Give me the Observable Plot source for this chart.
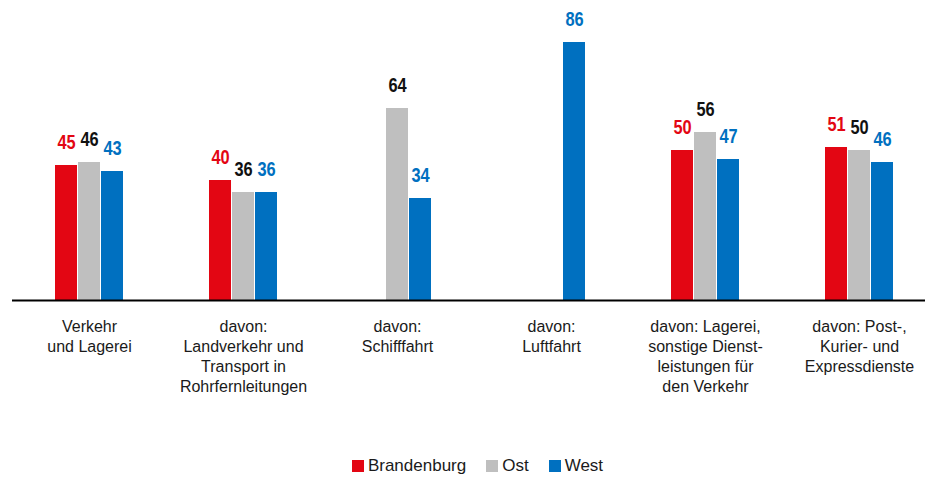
<!DOCTYPE html>
<html>
<head>
<meta charset="utf-8">
<script src="https://cdn.jsdelivr.net/npm/d3@7"></script>
<script src="https://cdn.jsdelivr.net/npm/@observablehq/plot@0.6"></script>
<style>
  html, body { margin: 0; padding: 0; background: #fff; }
  body { width: 925px; height: 478px; overflow: hidden; font-family: "Liberation Sans", Arial, sans-serif; }
  #legend { display: flex; justify-content: center; align-items: center; gap: 20px; font-size: 17px; color: #1a1a1a; height: 38px; margin-top: 7px; margin-left: 30px; }
  #legend .item { display: flex; align-items: center; gap: 4px; }
  #legend .sw { width: 12px; height: 12px; display: inline-block; }
</style>
</head>
<body>
<div id="chart"></div>
<div id="legend"></div>
<script>
const categories = [
  "Verkehr\nund Lagerei",
  "davon:\nLandverkehr und\nTransport in\nRohrfernleitungen",
  "davon:\nSchifffahrt",
  "davon:\nLuftfahrt",
  "davon: Lagerei,\nsonstige Dienst-\nleistungen für\nden Verkehr",
  "davon: Post-,\nKurier- und\nExpressdienste"
];
const series = ["Brandenburg", "Ost", "West"];
const brandenburg = [45, 40, null, null, 50, 51];
const ost = [46, 36, 64, null, 56, 50];
const west = [43, 36, 34, 86, 47, 46];
const barColors = ["#e30613", "#bfbfbf", "#0070c0"];
const labelColors = ["#e30613", "#111111", "#0070c0"];

const seriesValues = [brandenburg, ost, west];
const data = categories.flatMap((c, i) =>
  series.map((s, j) => ({cat: c, series: s, value: seriesValues[j][i], lc: labelColors[j]}))
).filter(d => d.value != null);

const chart = Plot.plot({
  width: 925,
  height: 440,
  marginTop: 0,
  marginBottom: 140,
  marginLeft: 10,
  marginRight: 0,
  style: {fontFamily: "'Liberation Sans', Arial, sans-serif", background: "#fff"},
  fx: {domain: categories, range: [10, 937], padding: 0, label: null},
  x: {domain: series, paddingInner: 0.056, paddingOuter: 1.84, axis: null},
  y: {domain: [0, 100], axis: null},
  color: {domain: series, range: barColors},
  marks: [
    Plot.barY(data, {fx: "cat", x: "series", y: "value", fill: "series"}),
    Plot.ruleY([0], {stroke: "#000", strokeWidth: 2}),
    Plot.text(data, {
      fx: "cat", x: "series", y: "value", text: d => String(d.value),
      fill: d => d.lc, lineAnchor: "bottom", dy: -17,
      fontSize: 19.5, fontWeight: "bold",
      fontFamily: "'Liberation Sans', Arial, sans-serif"
    }),
    Plot.axisFx({
      anchor: "bottom", tickSize: 0, tickPadding: 17, lineHeight: 1.25,
      fontSize: 16, fill: "#1a1a1a", label: null
    })
  ]
});
document.getElementById("chart").appendChild(chart);

// condense the value labels (narrow bold look)
const valueTexts = Array.from(chart.querySelectorAll("text"))
  .filter(t => t.getAttribute("font-weight") === "bold" || (t.parentNode && t.parentNode.getAttribute && t.parentNode.getAttribute("font-weight") === "bold"));
valueTexts.forEach(t => {
  const len = t.getComputedTextLength();
  if (len > 0) {
    t.setAttribute("lengthAdjust", "spacingAndGlyphs");
    t.setAttribute("textLength", (len * 0.84).toFixed(2));
  }
});

const legend = document.getElementById("legend");
series.forEach((s, j) => {
  const it = document.createElement("div");
  it.className = "item";
  const sw = document.createElement("span");
  sw.className = "sw";
  sw.style.background = barColors[j];
  const t = document.createElement("span");
  t.textContent = s;
  it.appendChild(sw); it.appendChild(t);
  legend.appendChild(it);
});
</script>
</body>
</html>
